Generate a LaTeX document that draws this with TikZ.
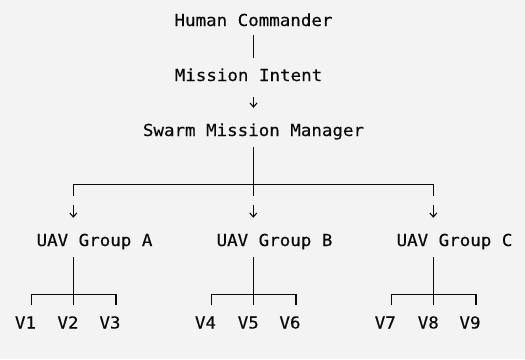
\documentclass[tikz,border=0pt]{standalone}
\usepackage{fontspec}
\setmonofont{DejaVu Sans Mono}[FakeStretch=1.06,FakeBold=0.4]
\usetikzlibrary{arrows.meta}
\definecolor{bg}{HTML}{F3F3F3}
\definecolor{ink}{HTML}{0A0A0A}
\begin{document}
\begin{tikzpicture}[x=1pt,y=-1pt,
  lbl/.style={font=\ttfamily\fontsize{16.5}{20}\selectfont, text=ink, inner sep=0pt,
              text height=12pt, text depth=4pt, anchor=base},
  wire/.style={draw=ink, line width=1.1pt},
  arr/.style={wire, -{Straight Barb[length=4pt,width=7pt,line width=1.1pt]}}
]
\fill[bg] (0,0) rectangle (525,359);
\useasboundingbox (0,0) rectangle (525,359);

% top chain
\node[lbl] (hc)  at (253.5,26)  {Human Commander};
\node[lbl] (mi)  at (248.5,81)  {Mission Intent};
\node[lbl] (smm) at (253.5,136) {Swarm Mission Manager};

% groups
\node[lbl] (ga) at (94.5,246)  {UAV Group A};
\node[lbl] (gb) at (274.5,246) {UAV Group B};
\node[lbl] (gc) at (454.5,246) {UAV Group C};

% vehicles
\node[lbl] (v1) at (25.5,328.5)  {V1};
\node[lbl] (v2) at (68,328.5)    {V2};
\node[lbl] (v3) at (110,328.5)   {V3};
\node[lbl] (v4) at (205.5,328.5) {V4};
\node[lbl] (v5) at (248.3,328.5) {V5};
\node[lbl] (v6) at (290,328.5)   {V6};
\node[lbl] (v7) at (385.3,328.5) {V7};
\node[lbl] (v8) at (428.3,328.5) {V8};
\node[lbl] (v9) at (470,328.5)   {V9};

% junction coordinates
\coordinate (jt)  at (253.3,184.3);
\coordinate (jtb) at (253.3,195.7);
\coordinate (jlb) at (73.3,195.7);
\coordinate (jrb) at (433.3,195.7);

% top connectors
\draw[wire, shorten <=5pt, shorten >=11pt] (hc.south) -- (hc.south |- mi.north);
\draw[arr, shorten <=12pt, shorten >=16pt] (smm.north |- mi.south) -- (smm.north);
\draw[wire, shorten <=7pt] (jtb |- smm.south) -- (jtb);
\draw[wire, line join=miter] (jlb) |- (jt) -| (jrb);

% arrows to groups
\draw[arr, shorten <=9.3pt, shorten >=16pt] (jlb) -- (jlb |- ga.north);
\draw[arr, shorten <=9.3pt, shorten >=16pt] (jtb) -- (jtb |- gb.north);
\draw[arr, shorten <=9.3pt, shorten >=16pt] (jrb) -- (jrb |- gc.north);

% subtrees
\foreach \g/\cx in {a/73.3, b/253.3, c/433.3}{
  \coordinate (s\g)  at (\cx,294.3);
  \coordinate (s\g b) at (\cx,305);
  \coordinate (s\g l) at ({\cx-41.6},305);
  \coordinate (s\g r) at ({\cx+42.7},305);
  \draw[wire, shorten <=7pt] (s\g b |- g\g.south) -- (s\g b);
  \draw[wire, line join=miter] (s\g l) |- (s\g) -| (s\g r);
}
\end{tikzpicture}
\end{document}
